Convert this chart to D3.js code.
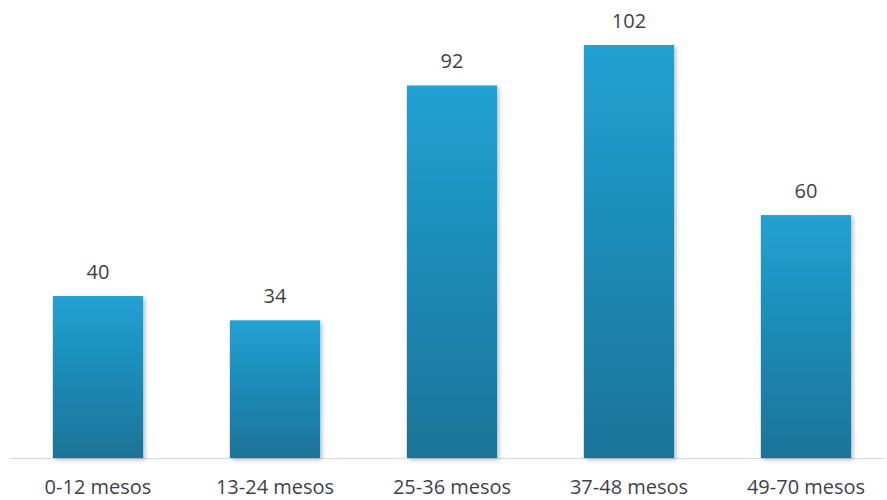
<!DOCTYPE html>
<html>
<head>
<meta charset="utf-8">
<script src="https://cdn.jsdelivr.net/npm/d3@7"></script>
<style>
  body { margin: 0; background: #fff; }
  svg { display: block; font-family: "Open Sans", sans-serif; }
</style>
</head>
<body>
<svg id="chart" width="887" height="500"></svg>
<script>
// data
var categories = ["0-12 mesos", "13-24 mesos", "25-36 mesos", "37-48 mesos", "49-70 mesos"];
var values = [40, 34, 92, 102, 60];

var width = 887, height = 500;
var baseline = 458;

var svg = d3.select("#chart");

// gradient + shadow
var defs = svg.append("defs");
var grad = defs.append("linearGradient").attr("id", "barGrad")
    .attr("x1", 0).attr("y1", 0).attr("x2", 0).attr("y2", 1);
grad.append("stop").attr("offset", "0%").attr("stop-color", "#21a1d3");
grad.append("stop").attr("offset", "100%").attr("stop-color", "#1a7398");

var filt = defs.append("filter").attr("id", "shadow")
    .attr("x", "-10%").attr("y", "-10%").attr("width", "130%").attr("height", "130%");
filt.append("feDropShadow").attr("dx", 2).attr("dy", 2).attr("stdDeviation", 2)
    .attr("flood-color", "#000").attr("flood-opacity", 0.25);

var x = d3.scaleBand()
    .domain(categories)
    .range([9.5, 894.5])
    .paddingInner(0.49)
    .paddingOuter(0.245);

var y = d3.scaleLinear()
    .domain([0, 102])
    .range([baseline, 45]);

// axis line
svg.append("line")
    .attr("x1", 10).attr("x2", 885)
    .attr("y1", baseline + 0.5).attr("y2", baseline + 0.5)
    .attr("stroke", "#d9d9d9").attr("stroke-width", 1);

// bars
svg.selectAll("rect.bar")
    .data(values)
    .enter().append("rect")
    .attr("class", "bar")
    .attr("x", function(d, i) { return x(categories[i]); })
    .attr("y", function(d) { return y(d); })
    .attr("width", x.bandwidth())
    .attr("height", function(d) { return baseline - y(d); })
    .attr("fill", "url(#barGrad)")
    .attr("filter", "url(#shadow)");

// value labels
svg.selectAll("text.val")
    .data(values)
    .enter().append("text")
    .attr("class", "val")
    .attr("x", function(d, i) { return x(categories[i]) + x.bandwidth() / 2; })
    .attr("y", function(d) { return y(d) - 17; })
    .attr("text-anchor", "middle")
    .attr("font-size", 20)
    .attr("fill", "#3f3f4c")
    .text(function(d) { return d; });

// category labels
svg.selectAll("text.cat")
    .data(categories)
    .enter().append("text")
    .attr("class", "cat")
    .attr("x", function(d) { return x(d) + x.bandwidth() / 2; })
    .attr("y", 494)
    .attr("text-anchor", "middle")
    .attr("font-size", 20)
    .attr("fill", "#3f3f4c")
    .text(function(d) { return d; });
</script>
</body>
</html>
